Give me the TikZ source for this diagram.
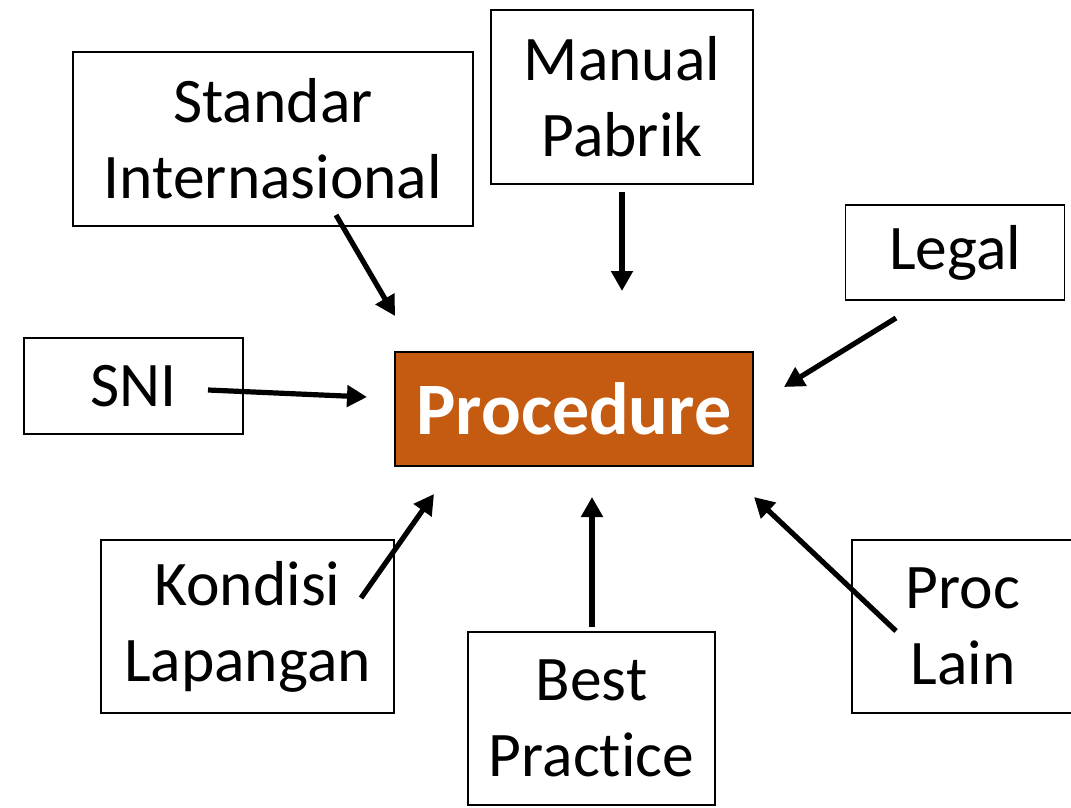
\documentclass[tikz,border=0pt]{standalone}
\usepackage{fontspec}
\setmainfont{Carlito}[Ligatures=NoCommon]
\usetikzlibrary{arrows.meta}
\definecolor{procfill}{HTML}{C55A11}
\begin{document}
\begin{tikzpicture}[x=1pt,y=-1pt,
  box/.style={draw=black,line width=1.3pt,fill=white,inner sep=0pt,align=center,
    font=\fontsize{63.5}{76}\selectfont},
  conn/.style={line width=5.2pt,-{Triangle[length=20pt,width=21pt]}}]
\useasboundingbox (0,0) rectangle (1071,808);
\begin{scope}
\clip (0,0) rectangle (1071,808);
\node[box,minimum width=400pt,minimum height=174pt] (std) at (273,139) {Standar\\Internasional};
\node[box,minimum width=262pt,minimum height=174pt] (man) at (622,97) {Manual\\Pabrik};
\node[box,minimum width=219pt,minimum height=95pt] (leg) at (955,252.5) {Legal};
\node[box,minimum width=219pt,minimum height=96pt] (sni) at (133.5,386) {SNI};
\node[draw=black,line width=1.3pt,fill=procfill,text=white,minimum width=358pt,minimum height=114pt,
  font=\fontsize{74}{80}\selectfont\bfseries] (proc) at (574,409) {Procedure};
\node[box,minimum width=293pt,minimum height=173pt] (kon) at (247.5,626.5) {Kondisi\\Lapangan};
\node[box,minimum width=247pt,minimum height=173pt] (best) at (591.5,718.5) {Best\\Practice};
\node[box,minimum width=222pt,minimum height=173pt] (pl) at (963,626.5) {Proc\\Lain};
\end{scope}
\coordinate (s1) at (336,215); \coordinate (e1) at (395,316);
\coordinate (s2) at (622,192); \coordinate (e2) at (622,291);
\coordinate (s3) at (896,318); \coordinate (e3) at (784,387);
\coordinate (s4) at (208,390); \coordinate (e4) at (367,397);
\coordinate (s5) at (361,598); \coordinate (e5) at (434,494);
\coordinate (s6) at (592,627); \coordinate (e6) at (592,497);
\coordinate (s7) at (896,631); \coordinate (e7) at (754,497);
\draw[conn] (s1) -- (e1);
\draw[conn] (s2) -- (e2);
\draw[conn] (s3) -- (e3);
\draw[conn] (s4) -- (e4);
\draw[conn] (s5) -- (e5);
\draw[conn] (s6) -- (e6);
\draw[conn] (s7) -- (e7);
\end{tikzpicture}
\end{document}
